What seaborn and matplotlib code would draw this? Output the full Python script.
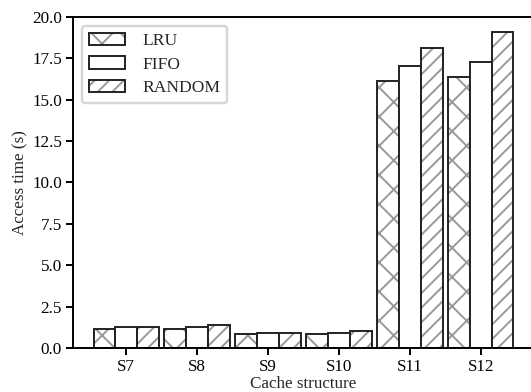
import matplotlib
matplotlib.use("Agg")
import matplotlib.pyplot as plt
import seaborn as sns
import pandas as pd

structures = ["S7", "S8", "S9", "S10", "S11", "S12"]
policies = ["LRU", "FIFO", "RANDOM"]
lru = [1.15, 1.12, 0.86, 0.82, 16.15, 16.40]
fifo = [1.27, 1.27, 0.93, 0.90, 17.05, 17.30]
rnd = [1.27, 1.36, 0.93, 1.00, 18.12, 19.10]
yticks = [0.0, 2.5, 5.0, 7.5, 10.0, 12.5, 15.0, 17.5, 20.0]

rows = []
for name, vals in zip(policies, [lru, fifo, rnd]):
    for s, v in zip(structures, vals):
        rows.append({"structure": s, "policy": name, "time": v})
df = pd.DataFrame(rows)

sns.set_theme(style="ticks")
plt.rcParams["font.family"] = ["Liberation Serif", "DejaVu Serif"]
plt.rcParams["hatch.linewidth"] = 0.8
FS = 7.0

DPI = 175
fig = plt.figure(figsize=(531 / DPI, 392 / DPI), dpi=DPI)
ax = fig.add_axes([73 / 531, 44 / 392, 461 / 531, 331 / 392])

sns.barplot(data=df, x="structure", y="time", hue="policy", order=structures,
            hue_order=policies, palette=["white"] * 3, width=0.92, ax=ax,
            edgecolor="black", linewidth=0.8, saturation=1, legend=False)

hatches = {"LRU": "xx", "FIFO": "", "RANDOM": "////"}
handles = []
for cont, name in zip(ax.containers, policies):
    for p in cont:
        p.set_hatch(hatches[name])
        p.set_facecolor("white")
        p.set_edgecolor("#222222")
        p._hatch_color = (0.6, 0.6, 0.6, 1.0)
    cont[0].set_label(name)
    handles.append(cont[0])

ax.legend(handles=handles, labels=policies, loc="upper left", fontsize=7.2,
          frameon=True, framealpha=0.8, edgecolor="#cccccc", fancybox=True,
          handlelength=2.05, handletextpad=1.0, labelspacing=0.42,
          borderaxespad=0.5)

ax.set_xlim(-0.75, 5.75)
ax.set_ylim(0, 20)
ax.set_yticks(yticks)
ax.set_yticklabels([f"{t:.1f}" for t in yticks])
ax.set_xlabel("Cache structure", fontsize=FS, labelpad=0.3)
ax.set_ylabel("Access time (s)", fontsize=FS, labelpad=1.5)
ax.tick_params(axis="both", labelsize=FS, length=3, width=0.8, direction="out",
               colors="black", pad=1.5)
for sp in ax.spines.values():
    sp.set_visible(True)
    sp.set_linewidth(0.8)
    sp.set_color("black")

fig.savefig("out.png", dpi=DPI)
